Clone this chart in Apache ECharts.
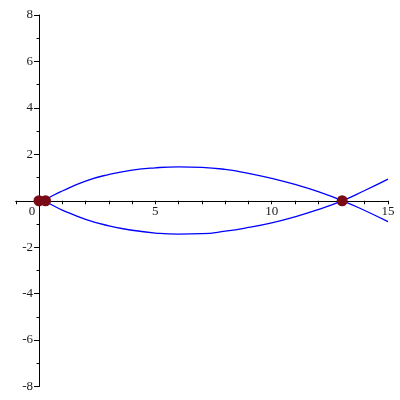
<!DOCTYPE html>
<html>
<head>
<meta charset="utf-8">
<script src="https://cdn.jsdelivr.net/npm/echarts@6/dist/echarts.min.js"></script>
<style>
html, body { margin: 0; padding: 0; background: #fff; }
#chart { width: 400px; height: 400px; }
</style>
</head>
<body>
<div id="chart"></div>
<script>
// values
var xs = [0.25, 0.5, 1, 2, 3, 4, 5, 6, 7, 8, 9, 10, 11, 12, 13, 14, 15];
var curveA = [0, 0.17, 0.42, 0.85, 1.13, 1.32, 1.42, 1.46, 1.44, 1.35, 1.18, 0.96, 0.70, 0.39, 0.02, -0.42, -0.90];
var curveB = [0, -0.15, -0.40, -0.80, -1.08, -1.27, -1.39, -1.44, -1.42, -1.31, -1.15, -0.95, -0.69, -0.38, -0.02, 0.44, 0.93];
var dots = [[0, 0], [0.28, 0], [13.03, 0]];
var xLabels = [0, 5, 10, 15];
var yLabels = [-8, -6, -4, -2, 2, 4, 6, 8];

function pairs(ys) {
    var out = [];
    for (var i in xs) out.push([xs[i], ys[i]]);
    return out;
}

var chart = echarts.init(document.getElementById('chart'));

var gridLeft = 15.75, gridRight = 12, gridTop = 15, gridBottom = 13.5;
var xMin = -1, xMax = 15, yMin = -8, yMax = 8;
// shift axes so they cross at (0, 0), labels included
var plotW = 400 - gridLeft - gridRight;
var plotH = 400 - gridTop - gridBottom;
var yAxisShift = -(0 - xMin) / (xMax - xMin) * plotW;
var xAxisShift = -(0 - yMin) / (yMax - yMin) * plotH;

var labelFont = {
    fontFamily: 'Liberation Serif',
    fontSize: 13,
    color: '#1a1a1a'
};

var option = {
    animation: false,
    grid: {
        left: gridLeft,
        right: gridRight,
        top: gridTop,
        bottom: gridBottom,
        outerBoundsMode: 'none'
    },
    xAxis: {
        type: 'value',
        min: xMin,
        max: xMax,
        interval: 1,
        offset: xAxisShift,
        splitLine: { show: false },
        axisLine: { onZero: false, lineStyle: { color: '#000', width: 1 } },
        axisTick: { length: 3.5, lineStyle: { color: '#000' } },
        axisLabel: Object.assign({
            margin: 4,
            formatter: function (v) {
                if (xLabels.indexOf(v) < 0) return '';
                if (v === 0) return '{z|0}';
                return String(v);
            },
            rich: { z: Object.assign({ padding: [0, 14, 0, 0] }, labelFont) }
        }, labelFont)
    },
    yAxis: {
        type: 'value',
        min: yMin,
        max: yMax,
        interval: 2,
        offset: yAxisShift,
        splitLine: { show: false },
        axisLine: { onZero: false, lineStyle: { color: '#000', width: 1 } },
        axisTick: { length: 5, lineStyle: { color: '#000' } },
        minorTick: { show: true, splitNumber: 2, length: 2.5, lineStyle: { color: '#000' } },
        axisLabel: Object.assign({
            margin: 6,
            formatter: function (v) {
                return yLabels.indexOf(v) < 0 ? '' : String(v);
            }
        }, labelFont)
    },
    series: [
        {
            type: 'line',
            data: pairs(curveA),
            smooth: 0.5,
            showSymbol: false,
            lineStyle: { color: '#0000ff', width: 1.3 }
        },
        {
            type: 'line',
            data: pairs(curveB),
            smooth: 0.5,
            showSymbol: false,
            lineStyle: { color: '#0000ff', width: 1.3 }
        },
        {
            type: 'scatter',
            data: dots,
            symbolSize: 11,
            itemStyle: { color: '#7a0a14', opacity: 1 },
            z: 5
        }
    ]
};
chart.setOption(option);
</script>
</body>
</html>
